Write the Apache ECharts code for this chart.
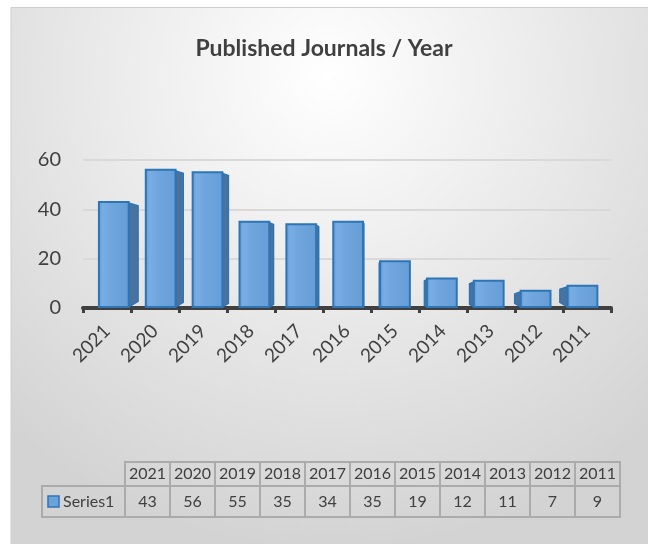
<!DOCTYPE html>
<html>
<head>
<meta charset="utf-8">
<script src="https://cdn.jsdelivr.net/npm/echarts@6/dist/echarts.min.js"></script>
<style>
  html, body { margin: 0; padding: 0; background: #fff; }
  #chart { width: 648px; height: 544px; }
</style>
</head>
<body>
<div id="chart"></div>
<script>
// 数据
const years = ['2021', '2020', '2019', '2018', '2017', '2016', '2015', '2014', '2013', '2012', '2011']
const counts = [43, 56, 55, 35, 34, 35, 19, 12, 11, 7, 9]
const seriesName = 'Series1'
const yMin = 0, yMax = 60, yStep = 20

const FONT = 'Lato, "Open Sans", sans-serif'
const TXT = '#404040'
const BAR_EDGE = '#2e75b6'
const BAR_SIDE = '#4a729f'

// 透视：前脸向中心偏移，侧面朝外
const VX_FRONT = 395, VX_SIDE = 371

function renderBar(params, api) {
  const i = api.value(0)
  const top = api.coord([i, api.value(1)])
  const base = api.coord([i, 0])
  const band = api.size([1, 0])[0]
  const w = band * 0.62
  const cx = top[0] + (VX_FRONT - top[0]) * 0.0236
  const x0 = cx - w / 2, x1 = cx + w / 2
  const d = (VX_SIDE - cx) * 0.0366
  const yt = top[1], yb = base[1] - 1
  const children = []
  if (Math.abs(d) > 0.8) {
    const ex = d > 0 ? x1 : x0
    children.push({
      type: 'polygon',
      shape: { points: [[ex, yt + 1], [ex + d, yt + 2 + Math.abs(d) * 0.2], [ex + d, yb - Math.abs(d) * 0.6], [ex, yb]] },
      style: { fill: BAR_SIDE, stroke: BAR_EDGE, lineWidth: 1.5 }
    })
  }
  children.push({
    type: 'rect',
    shape: { x: x0, y: yt, width: w, height: yb - yt },
    style: {
      fill: new echarts.graphic.LinearGradient(0, 0, 1, 0, [
        { offset: 0, color: '#5f98d3' },
        { offset: 0.15, color: '#79aee3' },
        { offset: 0.4, color: '#6fa6de' },
        { offset: 1, color: '#679dd6' }
      ]),
      stroke: BAR_EDGE, lineWidth: 2
    }
  })
  return { type: 'group', children }
}

// 数据表
function buildTable() {
  const left = 125, colW = 45, rowTop = 462, headH = 24, rowH = 31, labelLeft = 42
  const border = { stroke: '#ababab', lineWidth: 2, fill: 'none' }
  const els = []
  years.forEach((y, k) => {
    const x = left + k * colW
    els.push({ type: 'rect', shape: { x, y: rowTop, width: colW, height: headH }, style: border })
    els.push({ type: 'rect', shape: { x, y: rowTop + headH, width: colW, height: rowH }, style: border })
    els.push({ type: 'text', x: x + colW / 2, y: rowTop + headH / 2,
      style: { text: y, fill: TXT, font: '16px ' + FONT, align: 'center', verticalAlign: 'middle' } })
    els.push({ type: 'text', x: x + colW / 2, y: rowTop + headH + rowH / 2,
      style: { text: String(counts[k]), fill: TXT, font: '16px ' + FONT, align: 'center', verticalAlign: 'middle' } })
  })
  els.push({ type: 'rect', shape: { x: labelLeft, y: rowTop + headH, width: left - labelLeft, height: rowH }, style: border })
  els.push({ type: 'rect', shape: { x: labelLeft + 6, y: rowTop + headH + 10, width: 11, height: 11 },
    style: { fill: '#6aa3dc', stroke: BAR_EDGE, lineWidth: 1.5 } })
  els.push({ type: 'text', x: labelLeft + 21, y: rowTop + headH + rowH / 2,
    style: { text: seriesName, fill: TXT, font: '16px ' + FONT, align: 'left', verticalAlign: 'middle' } })
  return els
}

const chart = echarts.init(document.getElementById('chart'))
chart.setOption({
  animation: false,
  textStyle: { fontFamily: FONT },
  title: {
    text: 'Published Journals / Year', left: 'center', top: 32,
    textStyle: { fontFamily: FONT, fontSize: 23, fontWeight: 'bold', color: TXT }
  },
  grid: { left: 83, right: 37, top: 160, bottom: 236, containLabel: false },
  xAxis: {
    type: 'category', data: years,
    axisLine: { lineStyle: { color: '#404040', width: 4 } },
    axisTick: { show: true, length: 5, lineStyle: { color: '#404040', width: 3 } },
    axisLabel: { rotate: 45, fontSize: 19, color: TXT, margin: 20, fontFamily: FONT }
  },
  yAxis: {
    type: 'value', min: yMin, max: yMax, interval: yStep,
    axisLine: { show: false }, axisTick: { show: false },
    axisLabel: { fontSize: 20, color: TXT, margin: 22, fontFamily: FONT },
    splitLine: { lineStyle: { color: '#d9d9d9', width: 2 } }
  },
  graphic: [
    {
      type: 'rect', z: -100, silent: true,
      shape: { x: 11, y: 7.5, width: 660, height: 560 },
      style: {
        fill: new echarts.graphic.RadialGradient(0.48, 0.12, 0.85, [
          { offset: 0, color: '#ffffff' },
          { offset: 1, color: '#d3d3d3' }
        ]),
        stroke: '#cfcfcf', lineWidth: 1
      }
    },
    ...buildTable()
  ],
  series: [{
    type: 'custom', name: seriesName,
    renderItem: renderBar,
    encode: { x: 0, y: 1 },
    data: counts.map((v, i) => [i, v]),
    z: 3
  }]
})
</script>
</body>
</html>
